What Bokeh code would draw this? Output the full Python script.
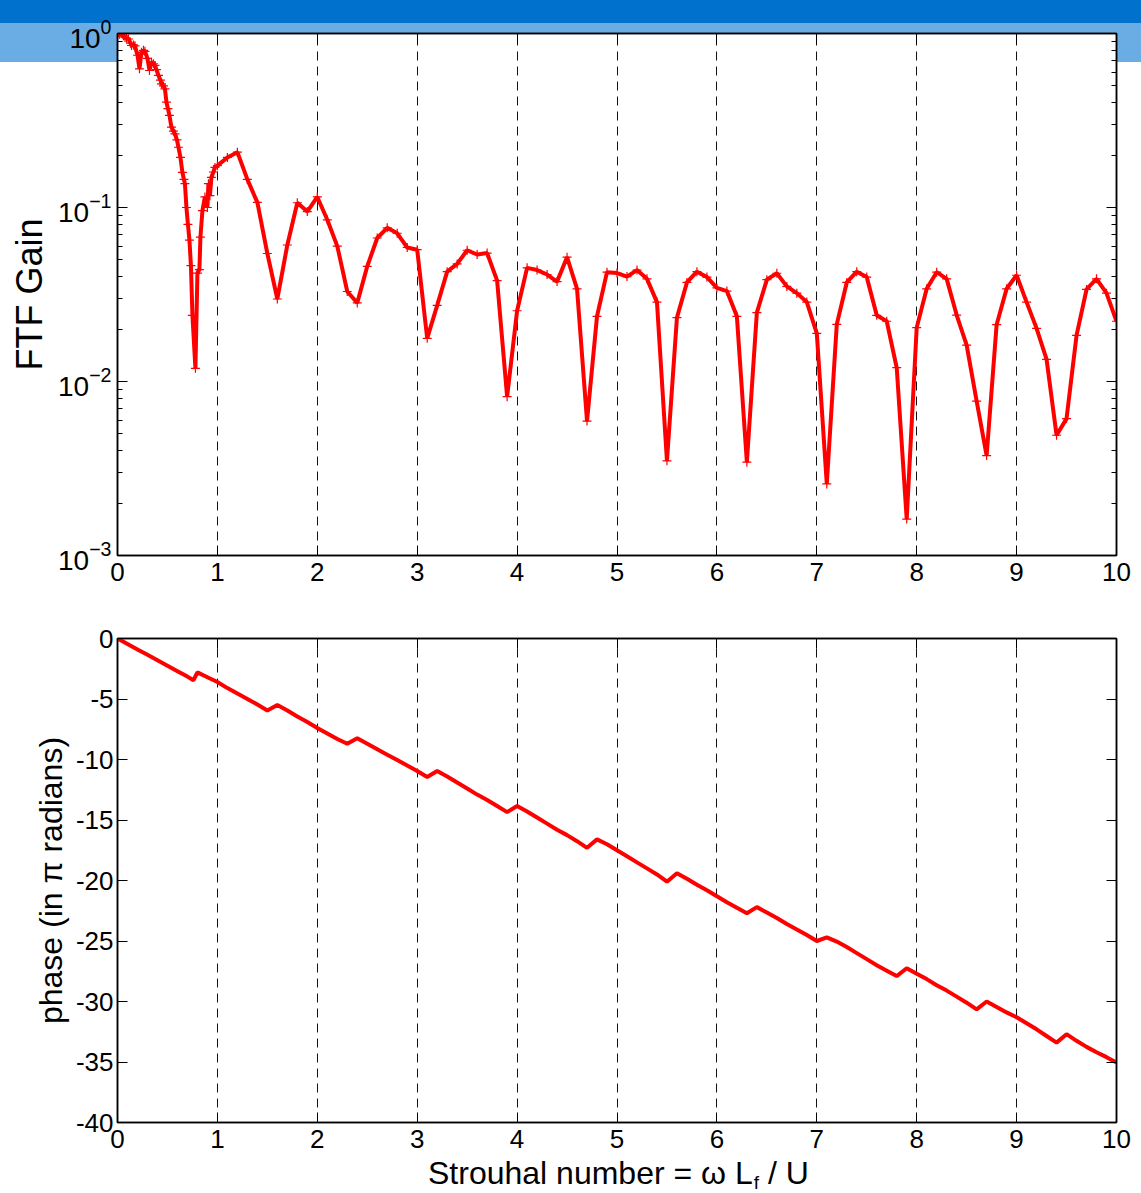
from bokeh.plotting import figure
from bokeh.layouts import column
from bokeh.models import (LinearAxis, LogAxis, FixedTicker, Range1d, Div,
                          ColumnDataSource, CustomJSTickFormatter)
from bokeh.embed import file_html
from bokeh.resources import INLINE

# ---------------- data ----------------
strouhal_gain = [
    0.0, 0.02, 0.04, 0.06, 0.075, 0.09, 0.11, 0.13, 0.14, 0.16, 0.175, 0.2, 0.22, 0.24,
    0.26, 0.275, 0.3, 0.32, 0.34, 0.36, 0.375, 0.39, 0.41, 0.43, 0.44, 0.46, 0.475, 0.49,
    0.505, 0.52, 0.54, 0.56, 0.575, 0.595, 0.61, 0.63, 0.65, 0.665, 0.675, 0.69, 0.705,
    0.72, 0.735, 0.75, 0.78, 0.8, 0.82, 0.83, 0.85, 0.875, 0.9, 0.91, 0.925, 0.94, 0.96,
    0.975,
    1.0, 1.1, 1.2, 1.3, 1.4, 1.5, 1.6, 1.7, 1.8, 1.9,
    2.0, 2.1, 2.2, 2.3, 2.4, 2.5, 2.6, 2.7, 2.8, 2.9,
    3.0, 3.1, 3.2, 3.3, 3.4, 3.5, 3.6, 3.7, 3.8, 3.9,
    4.0, 4.1, 4.2, 4.3, 4.4, 4.5, 4.6, 4.7, 4.8, 4.9,
    5.0, 5.1, 5.2, 5.3, 5.4, 5.5, 5.6, 5.7, 5.8, 5.9,
    6.0, 6.1, 6.2, 6.3, 6.4, 6.5, 6.6, 6.7, 6.8, 6.9,
    7.0, 7.1, 7.2, 7.3, 7.4, 7.5, 7.6, 7.7, 7.8, 7.9,
    8.0, 8.1, 8.2, 8.3, 8.4, 8.5, 8.6, 8.7, 8.8, 8.9,
    9.0, 9.1, 9.2, 9.3, 9.4, 9.5, 9.6, 9.7, 9.8, 9.9,
    10.0,
]
ftf_gain = [
    0.97, 0.99, 1.0, 0.97, 0.95, 0.94, 0.93, 0.88, 0.853, 0.86, 0.85, 0.75, 0.627, 0.78,
    0.8, 0.79, 0.72, 0.613, 0.684, 0.67, 0.655, 0.62, 0.574, 0.54, 0.514, 0.5, 0.481, 0.403,
    0.37, 0.338, 0.29, 0.275, 0.265, 0.245, 0.222, 0.194, 0.159, 0.145, 0.137, 0.1, 0.08,
    0.065, 0.0464, 0.024, 0.0119, 0.042, 0.044, 0.0675, 0.096, 0.115, 0.1, 0.137, 0.117,
    0.149, 0.16, 0.17,
    0.174, 0.194, 0.208, 0.145, 0.107, 0.0544, 0.0298, 0.0609, 0.1065, 0.0947,
    0.115, 0.085, 0.060, 0.0329, 0.0283, 0.0459, 0.0668, 0.0764, 0.0711, 0.0589,
    0.0572, 0.0177, 0.0274, 0.0428, 0.0474, 0.0568, 0.0537, 0.0547, 0.038, 0.00818,
    0.0255, 0.045, 0.0437, 0.0412, 0.0375, 0.0518, 0.0341, 0.00592, 0.0237, 0.0425,
    0.042, 0.0401, 0.0437, 0.0389, 0.0286, 0.0035, 0.0233, 0.0371, 0.0428, 0.0398,
    0.0345, 0.0331, 0.0237, 0.00344, 0.0249, 0.0385, 0.0419, 0.0352, 0.0322, 0.0286,
    0.0189, 0.00258, 0.0213, 0.0371, 0.0428, 0.0398, 0.024, 0.0222, 0.012, 0.00162,
    0.0204, 0.0341, 0.0425, 0.0389, 0.0241, 0.0162, 0.00771, 0.00375, 0.0212, 0.0341,
    0.0408, 0.0286, 0.0202, 0.0134, 0.00491, 0.00612, 0.0184, 0.0338, 0.0389, 0.0322,
    0.0222,
]

strouhal_phase = [
    0.0, 0.1, 0.2, 0.3, 0.4, 0.5, 0.6, 0.7, 0.76, 0.8, 0.9,
    1.0, 1.1, 1.2, 1.3, 1.4, 1.5, 1.6, 1.7, 1.8, 1.9,
    2.0, 2.1, 2.2, 2.3, 2.4, 2.5, 2.6, 2.7, 2.8, 2.9,
    3.0, 3.1, 3.2, 3.3, 3.4, 3.5, 3.6, 3.7, 3.8, 3.9,
    4.0, 4.1, 4.2, 4.3, 4.4, 4.5, 4.6, 4.7, 4.8, 4.9,
    5.0, 5.1, 5.2, 5.3, 5.4, 5.5, 5.6, 5.7, 5.8, 5.9,
    6.0, 6.1, 6.2, 6.3, 6.4, 6.5, 6.6, 6.7, 6.8, 6.9,
    7.0, 7.1, 7.2, 7.3, 7.4, 7.5, 7.6, 7.7, 7.8, 7.9,
    8.0, 8.1, 8.2, 8.3, 8.4, 8.5, 8.6, 8.7, 8.8, 8.9,
    9.0, 9.1, 9.2, 9.3, 9.4, 9.5, 9.6, 9.7, 9.8, 9.9,
    10.0,
]
phase_pi = [
    0.0, -0.45, -0.9, -1.35, -1.8, -2.25, -2.7, -3.15, -3.45, -2.8, -3.2,
    -3.6, -4.1, -4.55, -5.0, -5.45, -5.95, -5.5, -5.95, -6.45, -6.9,
    -7.4, -7.85, -8.3, -8.7, -8.25, -8.7, -9.15, -9.6, -10.05, -10.5,
    -10.95, -11.45, -10.95, -11.4, -11.9, -12.4, -12.9, -13.35, -13.85, -14.35,
    -13.85, -14.3, -14.8, -15.3, -15.8, -16.25, -16.75, -17.3, -16.6, -17.0,
    -17.5, -18.0, -18.5, -19.0, -19.5, -20.1, -19.4, -19.85, -20.35, -20.8,
    -21.3, -21.8, -22.25, -22.7, -22.2, -22.65, -23.1, -23.6, -24.05, -24.5,
    -25.0, -24.7, -25.05, -25.5, -26.0, -26.5, -27.0, -27.45, -27.9, -27.25,
    -27.7, -28.15, -28.65, -29.1, -29.6, -30.1, -30.65, -30.0, -30.45, -30.9,
    -31.3, -31.8, -32.3, -32.85, -33.4, -32.7, -33.25, -33.75, -34.2, -34.6,
    -35.05,
]

x_ticks = [0, 1, 2, 3, 4, 5, 6, 7, 8, 9, 10]
gain_ticks = [1e-3, 1e-2, 1e-1, 1.0]
gain_minor = [m * d for d in (1e-3, 1e-2, 1e-1) for m in (2, 3, 4, 5, 6, 7, 8, 9)]
phase_ticks = [-40, -35, -30, -25, -20, -15, -10, -5, 0]

FONT = "Liberation Sans"
RED = "#ff0000"
W = 1141
BANNER = ("linear-gradient(to bottom, #0072ce 0px, #0072ce 23px, #6aace4 23px, "
          "#6aace4 62px, #ffffff 62px, #ffffff 100%)")


def style_axis(ax, labels=True, minor=False, size="26px"):
    ax.axis_line_color = "black"
    ax.axis_line_width = 1.5
    ax.major_tick_in = 10
    ax.major_tick_out = 0
    ax.major_tick_line_color = "black"
    ax.major_tick_line_width = 1
    if minor:
        ax.minor_tick_in = 5
        ax.minor_tick_out = 0
        ax.minor_tick_line_color = "black"
    else:
        ax.minor_tick_line_color = None
    ax.major_label_text_font = FONT
    ax.major_label_text_color = "black"
    ax.major_label_text_font_size = size
    if not labels:
        ax.formatter = CustomJSTickFormatter(code="return ''")
        ax.major_label_text_font_size = "1px"
        ax.major_label_standoff = 0
    ax.axis_label_text_font = FONT
    ax.axis_label_text_font_style = "normal"
    ax.axis_label_text_color = "black"


# ---------------- top: gain ----------------
p1 = figure(width=W, height=600, x_range=Range1d(0, 10), y_range=Range1d(1e-3, 1),
            y_axis_type="log", output_backend="svg", toolbar_location=None,
            min_border_left=117, min_border_right=25, min_border_top=33,
            min_border_bottom=45, background_fill_color="white",
            border_fill_color=None, outline_line_color="black",
            outline_line_width=1.5)
p1.styles = {"background": BANNER}

p1.xaxis.ticker = FixedTicker(ticks=x_ticks)
p1.yaxis.ticker = FixedTicker(ticks=gain_ticks, minor_ticks=gain_minor)
for ax in p1.xaxis:
    style_axis(ax)
    ax.major_label_standoff = 7
for ax in p1.yaxis:
    style_axis(ax, minor=True, size="28px")
    ax.major_label_standoff = 6
    ax.axis_label = "FTF Gain"
    ax.axis_label_text_font_size = "36px"
    ax.axis_label_standoff = 5

top_ax = LinearAxis(ticker=FixedTicker(ticks=x_ticks))
style_axis(top_ax, labels=False)
p1.add_layout(top_ax, "above")
right_ax = LogAxis(ticker=FixedTicker(ticks=gain_ticks, minor_ticks=gain_minor))
style_axis(right_ax, labels=False, minor=True)
p1.add_layout(right_ax, "right")

p1.xgrid.grid_line_color = "#111111"
p1.xgrid.grid_line_dash = "9 6"
p1.xgrid.grid_line_width = 1
p1.ygrid.visible = False

src1 = ColumnDataSource(dict(st=strouhal_gain, g=ftf_gain))
p1.line("st", "g", source=src1, line_color=RED, line_width=4)
p1.scatter("st", "g", source=src1, marker="cross", size=9, line_color=RED,
           line_width=1.2)

# ---------------- bottom: phase ----------------
p2 = figure(width=W, height=559, x_range=Range1d(0, 10), y_range=Range1d(-40, 0),
            output_backend="svg", toolbar_location=None,
            min_border_left=117, min_border_right=25, min_border_top=38,
            min_border_bottom=37, background_fill_color="white",
            border_fill_color="white", outline_line_color="black",
            outline_line_width=1.5)
p2.xaxis.ticker = FixedTicker(ticks=x_ticks)
p2.yaxis.ticker = FixedTicker(ticks=phase_ticks)
p2.yaxis.formatter = CustomJSTickFormatter(code="return tick.toString()")
for ax in p2.xaxis:
    style_axis(ax)
    ax.major_label_standoff = 7
for ax in p2.yaxis:
    style_axis(ax)
    ax.major_label_standoff = 4
    ax.axis_label = "phase (in π radians)"
    ax.axis_label_text_font_size = "32px"
    ax.axis_label_standoff = 4

top_ax2 = LinearAxis(ticker=FixedTicker(ticks=x_ticks))
style_axis(top_ax2, labels=False)
p2.add_layout(top_ax2, "above")
right_ax2 = LinearAxis(ticker=FixedTicker(ticks=phase_ticks))
style_axis(right_ax2, labels=False)
p2.add_layout(right_ax2, "right")

p2.xgrid.grid_line_color = "#111111"
p2.xgrid.grid_line_dash = "9 6"
p2.xgrid.grid_line_width = 1
p2.ygrid.visible = False

src2 = ColumnDataSource(dict(st=strouhal_phase, ph=phase_pi))
p2.line("st", "ph", source=src2, line_color=RED, line_width=4)

# ---------------- x-axis title (with subscript) ----------------
xlabel = Div(
    text=('<span style="position:relative; top:-3px">Strouhal number = ω L'
          '<span style="font-size:19px; position:relative; top:5px; padding-left:1px">f</span>'
          ' / U</span>'),
    width=W, height=34, margin=0,
    styles={"font-family": FONT, "font-size": "32px", "line-height": "34px",
            "color": "black", "padding-left": "428px", "white-space": "nowrap",
            "background": "white", "box-sizing": "border-box"},
)

layout = column(p1, p2, xlabel, spacing=0)
open("out.html", "w").write(file_html(layout, INLINE))
